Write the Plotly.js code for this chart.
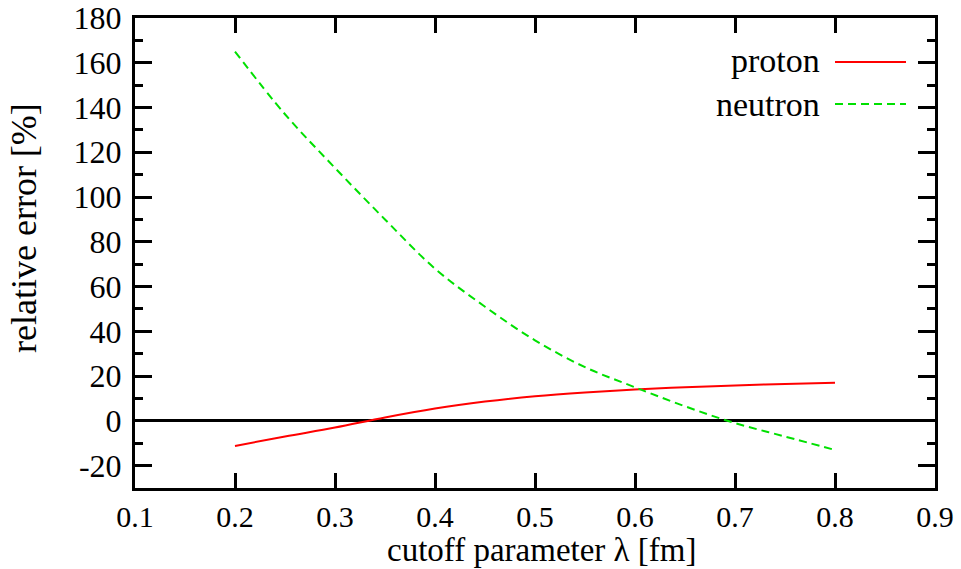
<!DOCTYPE html>
<html>
<head>
<meta charset="utf-8">
<script src="https://cdn.plot.ly/plotly-3.0.1.min.js"></script>
<style>html,body{margin:0;padding:0;background:#fff;}#chart{width:961px;height:569px;}</style>
</head>
<body>
<div id="chart"></div>
<script>
const lambda = [0.2, 0.25, 0.3, 0.35, 0.4, 0.45, 0.5, 0.55, 0.6, 0.65, 0.7, 0.75, 0.8];
const proton = [-11.2, -7.0, -3.0, 1.5, 5.5, 8.6, 11.0, 12.7, 14.0, 15.0, 15.8, 16.5, 17.0];
const neutron = [165, 137, 113, 90, 68, 51, 36, 24, 15, 6.5, -1, -7, -13];
const seriesNames = ["proton", "neutron"];
const yTickVals = [-20, 0, 20, 40, 60, 80, 100, 120, 140, 160, 180];
const yTickText = ["-20", "0", "20", "40", "60", "80", "100", "120", "140", "160", "180"];
const xTitle = "cutoff parameter λ [fm]";
const yTitle = "relative error [%]";

const font = "Liberation Serif, Times New Roman, serif";

const traces = [
  {x: lambda, y: proton, name: seriesNames[0], mode: "lines", line: {color: "#ff0000", width: 2, shape: "spline"}},
  {x: lambda, y: neutron, name: seriesNames[1], mode: "lines", line: {color: "#00e000", width: 2, dash: "8px,5px", shape: "spline"}}
];

const px = (p) => (p - 135) / 800;
const py = (p) => (488 - p) / 470;

const layout = {
  width: 961, height: 569,
  margin: {l: 135, r: 26, t: 18, b: 81},
  paper_bgcolor: "#fff", plot_bgcolor: "#fff",
  showlegend: false,
  font: {family: font, color: "#000", size: 30},
  xaxis: {
    range: [0.1, 0.9], dtick: 0.1, tick0: 0.1, tickformat: ".1f",
    showgrid: false, zeroline: false,
    showline: true, linecolor: "#000", linewidth: 3, mirror: "allticks",
    ticks: "inside", ticklen: 15, tickwidth: 3, tickcolor: "#000",
    tickfont: {family: font, size: 30},
    ticklabelstandoff: 0
  },
  yaxis: {
    range: [-30, 180], tickmode: "array", tickvals: yTickVals, ticktext: yTickText,
    showgrid: false, zeroline: true, zerolinecolor: "#000", zerolinewidth: 3,
    showline: true, linecolor: "#000", linewidth: 3, mirror: "allticks",
    ticks: "inside", ticklen: 17, tickwidth: 3, tickcolor: "#000",
    minor: {dtick: 10, tick0: 0, ticks: "inside", ticklen: 8, tickwidth: 3, tickcolor: "#000", showgrid: false},
    tickfont: {family: font, size: 32},
    ticklabelstandoff: 4
  },
  annotations: [
    {xref: "paper", yref: "paper", x: px(24), y: py(228), xanchor: "center", yanchor: "middle", textangle: -90, text: yTitle, showarrow: false, font: {family: font, size: 36}},
    {xref: "paper", yref: "paper", x: px(542), y: py(569), xanchor: "center", yanchor: "bottom", text: xTitle, showarrow: false, font: {family: font, size: 33}, borderpad: 0},
    {xref: "paper", yref: "paper", x: px(822), y: py(60), xanchor: "right", yanchor: "middle", text: seriesNames[0], showarrow: false, font: {family: font, size: 34}},
    {xref: "paper", yref: "paper", x: px(822), y: py(104), xanchor: "right", yanchor: "middle", text: seriesNames[1], showarrow: false, font: {family: font, size: 34}}
  ],
  shapes: [
    {type: "line", xref: "paper", yref: "paper", x0: px(835), x1: px(906), y0: py(62), y1: py(62), line: {color: "#ff0000", width: 2}},
    {type: "line", xref: "paper", yref: "paper", x0: px(835), x1: px(906), y0: py(104), y1: py(104), line: {color: "#00e000", width: 2, dash: "8px,5px"}}
  ]
};

Plotly.newPlot("chart", traces, layout, {staticPlot: true, displayModeBar: false});
</script>
</body>
</html>
